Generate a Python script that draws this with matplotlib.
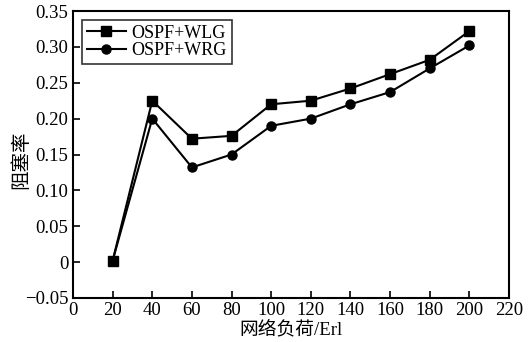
import matplotlib
matplotlib.use("Agg")
import matplotlib.pyplot as plt
from matplotlib.ticker import FixedLocator, FixedFormatter

x = [20, 40, 60, 80, 100, 120, 140, 160, 180, 200]
wlg = [0.002, 0.225, 0.172, 0.176, 0.220, 0.225, 0.242, 0.262, 0.282, 0.322]
wrg = [0.002, 0.200, 0.132, 0.150, 0.190, 0.200, 0.220, 0.237, 0.270, 0.302]
xticks = [0, 20, 40, 60, 80, 100, 120, 140, 160, 180, 200, 220]
yticks = [-0.05, 0, 0.05, 0.10, 0.15, 0.20, 0.25, 0.30, 0.35]
ylabels = ["\u22120.05", "0", "0.05", "0.10", "0.15", "0.20", "0.25", "0.30", "0.35"]

plt.rcParams['font.family'] = ['Liberation Serif', 'Noto Sans CJK SC']
fig = plt.figure(figsize=(5.28, 3.42), dpi=100)
ax = fig.add_axes([73/528, 1-298/342, (509-73)/528, (298-11)/342])
ax.plot(x, wrg, color='black', marker='o', markersize=6.5, linewidth=1.5, label='OSPF+WRG', zorder=3)
ax.plot(x, wlg, color='black', marker='s', markersize=6.5, linewidth=1.5, label='OSPF+WLG', zorder=4)
ax.set_xlim(0, 220)
ax.set_ylim(-0.05, 0.35)
ax.xaxis.set_major_locator(FixedLocator(xticks))
ax.yaxis.set_major_locator(FixedLocator(yticks))
ax.yaxis.set_major_formatter(FixedFormatter(ylabels))
ax.tick_params(direction='in', length=5, width=1.2, labelsize=13.5, colors='black')
ax.tick_params(axis='x', pad=3)
for s in ax.spines.values():
    s.set_linewidth(1.5)
ax.set_xlabel('网络负荷/Erl', fontsize=13.5, labelpad=1)
ax.set_ylabel('阻塞率', fontsize=14)
ax.yaxis.set_label_coords(-0.098, 0.48)
h, l = ax.get_legend_handles_labels()
leg = ax.legend(h[::-1], l[::-1], loc='upper left', fontsize=13, frameon=True,
                fancybox=False, edgecolor='black', borderpad=0.25, labelspacing=0.05,
                handlelength=2.2, handletextpad=0.3, borderaxespad=0.5)
leg.get_frame().set_linewidth(1.2)
fig.savefig('out.png', dpi=100)
